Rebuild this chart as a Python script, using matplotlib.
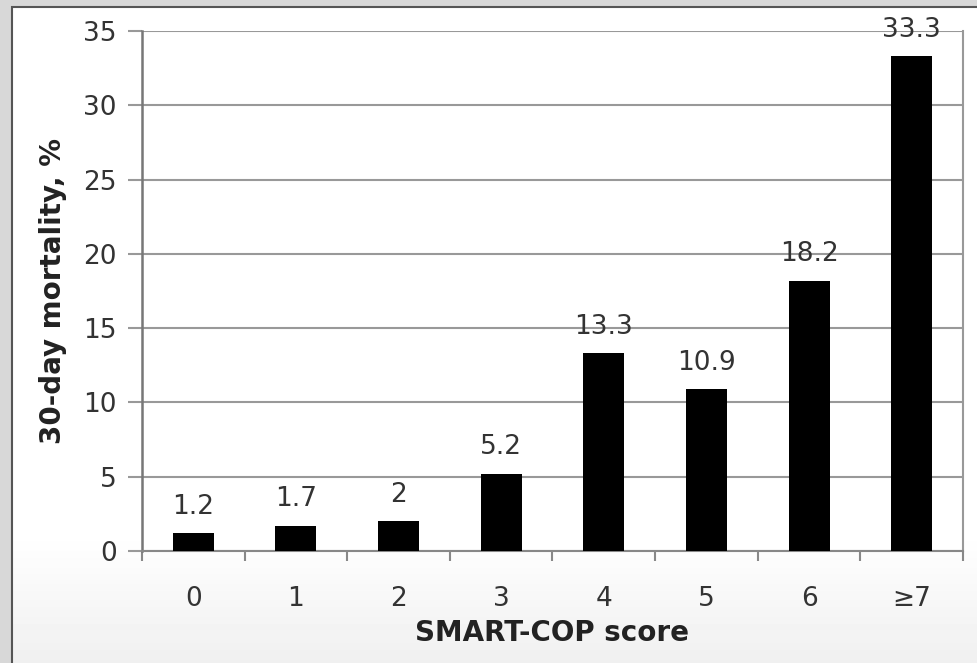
import numpy as np
import matplotlib.pyplot as plt
from matplotlib.patches import Rectangle

plt.rcParams['font.family'] = ['DejaVu Sans']

# data
categories = ['0', '1', '2', '3', '4', '5', '6', '≥7']
mortality = [1.2, 1.7, 2, 5.2, 13.3, 10.9, 18.2, 33.3]
labels = ['1.2', '1.7', '2', '5.2', '13.3', '10.9', '18.2', '33.3']

fig = plt.figure(figsize=(9.77, 6.63), dpi=100, facecolor='#d8d8d8')

# inner panel with light gradient at the bottom
bg = fig.add_axes([0.012, 0.0, 0.988, 0.991])
grad = np.ones((200, 2))
grad[:40, :] = np.linspace(0.94, 1.0, 40)[:, None]
bg.imshow(grad, cmap='gray', vmin=0, vmax=1, aspect='auto', origin='lower',
          extent=[0, 1, 0, 1])
bg.set_xlim(0, 1)
bg.set_ylim(0, 1)
bg.axis('off')
fig.patches.append(Rectangle((0.0125, -0.01), 0.99, 1.0, transform=fig.transFigure,
                             fill=False, edgecolor='#555555', linewidth=1.5))

ax = fig.add_axes([0.1453, 0.1689, 0.8404, 0.7843])
ax.set_facecolor('white')
x = np.arange(len(categories))
ax.bar(x, mortality, width=0.4, color='black', zorder=3)

for xi, v, t in zip(x, mortality, labels):
    ax.text(xi, v + 0.9, t, ha='center', va='bottom', fontsize=19, color='#333333', zorder=4)

ax.set_xlim(-0.5, 7.5)
ax.set_ylim(0, 35)
ax.set_yticks(range(0, 36, 5))
ax.set_xticks(x)
ax.set_xticklabels(categories)
ax.set_xticks(np.arange(-0.5, 8, 1), minor=True)
ax.tick_params(axis='x', which='major', length=0, pad=25, labelsize=19, labelcolor='#333333')
ax.tick_params(axis='x', which='minor', length=7, width=1.5, color='#888888', direction='out')
ax.tick_params(axis='y', length=10, width=1.5, color='#999999', labelsize=19,
               labelcolor='#333333', pad=8)
ax.yaxis.grid(True, color='#999999', linewidth=1.5, zorder=0)

ax.spines['top'].set_visible(False)
ax.spines['left'].set_color('#777777')
ax.spines['left'].set_linewidth(1.8)
ax.spines['bottom'].set_color('#888888')
ax.spines['bottom'].set_linewidth(1.5)
ax.spines['right'].set_color('#999999')
ax.spines['right'].set_linewidth(1.5)

ax.set_xlabel('SMART-COP score', fontsize=20, fontweight='bold', color='#222222', labelpad=5)
ax.set_ylabel('30-day mortality, %', fontsize=20, fontweight='bold', color='#222222', labelpad=12)

fig.savefig('out.png', dpi=100, facecolor=fig.get_facecolor())
